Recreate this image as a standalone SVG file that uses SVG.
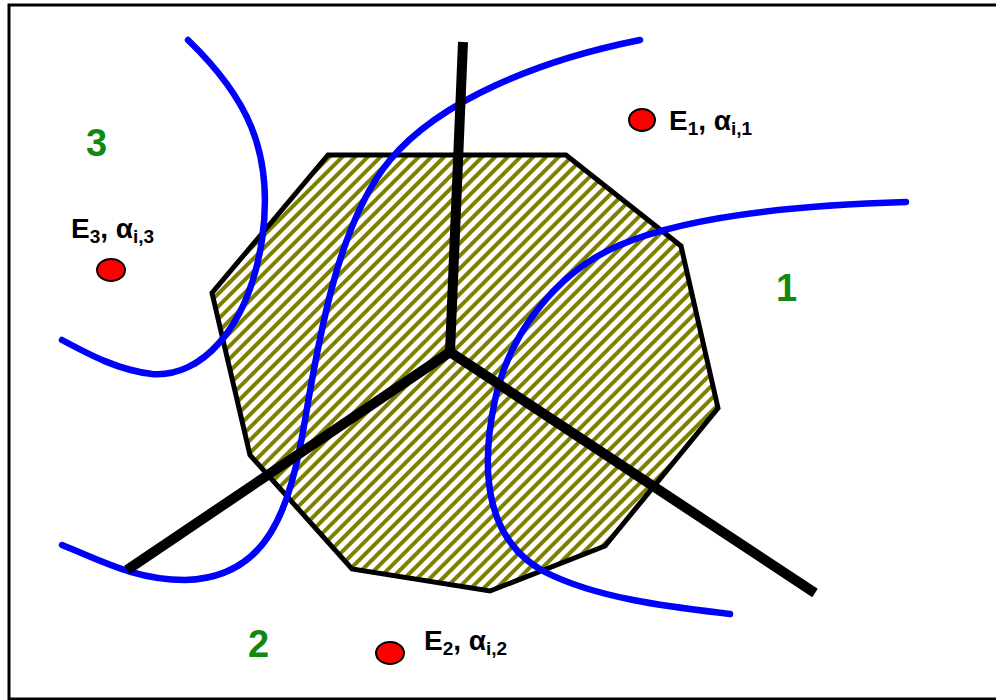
<svg xmlns="http://www.w3.org/2000/svg" width="996" height="700" viewBox="0 0 996 700">
<style>
.lbl{font-family:"Liberation Sans",Arial,sans-serif;font-weight:bold;fill:#000}
.num{font-family:"Liberation Sans",Arial,sans-serif;font-weight:bold;fill:#118811;font-size:38px}
.blue{fill:none;stroke:#0000ff;stroke-width:6.5;stroke-linecap:round}
.axis{fill:none;stroke:#000;stroke-width:10}
.pt{fill:#ff0000;stroke:#000;stroke-width:2}
</style>
<defs>
<pattern id="hatch" width="9" height="9" patternUnits="userSpaceOnUse" patternTransform="rotate(45)">
<rect width="9" height="9" fill="#fff"/>
<rect x="0" y="0" width="4" height="9" fill="#808000"/>
</pattern>
</defs>
<rect x="0" y="0" width="996" height="700" fill="#fff"/>
<rect id="frame" x="9" y="5" width="1000" height="694" fill="none" stroke="#000" stroke-width="3"/>
<g id="region">
<polygon points="328,155 566,155 681,246 718,408 605,546 490,591 352,569 250,455 212,293" fill="url(#hatch)" stroke="#000" stroke-width="5" stroke-linejoin="miter"/>
</g>
<g id="connectors">
<path class="blue" d="M188,40 C245,95 275,150 262,240 C248,330 200,378 152,374 C118,370 90,355 62,340"/>
<path class="blue" d="M640,40 C540,60 440,100 390,160 C340,220 320,330 305,420 C290,510 268,578 185,580 C135,580 100,560 62,545"/>
<path class="blue" d="M906,202 C800,205 690,215 620,245 C560,270 510,330 495,400 C480,470 485,540 545,572 C600,600 680,608 730,614"/>
<line class="axis" x1="450" y1="352" x2="463" y2="42"/>
<line class="axis" x1="450" y1="352" x2="127" y2="570"/>
<line class="axis" x1="450" y1="352" x2="815" y2="593"/>
</g>
<g id="label3"><text class="num" x="86" y="156">3</text></g>
<g id="label1"><text class="num" x="776" y="301">1</text></g>
<g id="label2"><text class="num" x="248" y="657">2</text></g>
<g id="E1">
<ellipse class="pt" cx="642" cy="120" rx="13" ry="11"/>
<text class="lbl" x="669" y="130" font-size="28">E<tspan font-size="19" dy="5">1</tspan><tspan dy="-5">, α</tspan><tspan font-size="19" dy="5">i,1</tspan></text>
</g>
<g id="E3">
<ellipse class="pt" cx="111" cy="270" rx="14" ry="11"/>
<text class="lbl" x="71" y="238" font-size="28">E<tspan font-size="19" dy="5">3</tspan><tspan dy="-5">, α</tspan><tspan font-size="19" dy="5">i,3</tspan></text>
</g>
<g id="E2">
<ellipse class="pt" cx="390" cy="653" rx="14" ry="11"/>
<text class="lbl" x="424" y="650" font-size="28">E<tspan font-size="19" dy="5">2</tspan><tspan dy="-5">, α</tspan><tspan font-size="19" dy="5">i,2</tspan></text>
</g>
</svg>
